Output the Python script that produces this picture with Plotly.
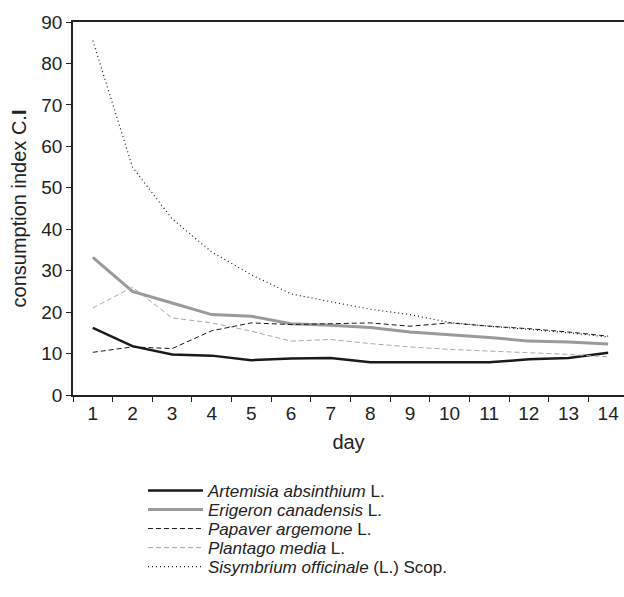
import plotly.graph_objects as go

days = list(range(1, 15))
artemisia = [16.2, 11.8, 9.8, 9.5, 8.4, 8.8, 8.9, 7.9, 7.9, 7.9, 7.9, 8.6, 8.9, 10.2]
erigeron = [33.2, 25.0, 22.2, 19.4, 19.0, 17.2, 16.8, 16.3, 15.2, 14.6, 13.9, 13.0, 12.8, 12.3]
papaver = [10.3, 11.6, 11.2, 15.5, 17.4, 17.0, 17.2, 17.4, 16.6, 17.4, 16.6, 16.0, 15.2, 14.2]
plantago = [21.0, 26.0, 18.6, 17.4, 15.4, 13.0, 13.4, 12.4, 11.6, 11.0, 10.6, 10.2, 9.8, 9.2]
sisymbrium = [85.5, 55.0, 42.5, 34.5, 29.0, 24.4, 22.5, 20.7, 19.4, 17.5, 16.6, 15.8, 15.0, 14.0]

names = ["<i>Artemisia absinthium</i> L.",
         "<i>Erigeron canadensis</i> L.",
         "<i>Papaver argemone</i> L.",
         "<i>Plantago media</i> L.",
         "<i>Sisymbrium officinale</i> (L.) Scop."]

series = [artemisia, erigeron, papaver, plantago, sisymbrium]
styles = [dict(color="#1a1a1a", width=2.5, dash="solid"),
          dict(color="#9a9a9a", width=3, dash="solid"),
          dict(color="#1a1a1a", width=1, dash="5px,3px"),
          dict(color="#a8a8a8", width=1, dash="5px,3px"),
          dict(color="#1a1a1a", width=1.2, dash="1px,3px")]

font = "Arial, Liberation Sans, sans-serif"
plot_top, plot_bottom = 22, 395
row_px = [491, 510, 529, 548, 567]

fig = go.Figure()
legend_layout = {}
for i, (nm, ys, st) in enumerate(zip(names, series, styles)):
    key = "legend" if i == 0 else f"legend{i + 1}"
    fig.add_trace(go.Scatter(x=days, y=ys, mode="lines", name=nm, line=st,
                             legend=key))
    legend_layout[key] = dict(
        x=0.127, y=(plot_bottom - row_px[i]) / (plot_bottom - plot_top),
        xanchor="left", yanchor="middle", itemwidth=55,
        font=dict(family=font, size=17, color="#222"),
        bgcolor="rgba(0,0,0,0)", borderwidth=0)

fig.update_layout(
    width=624, height=597,
    margin=dict(l=73, r=0, t=22, b=202, autoexpand=False),
    paper_bgcolor="white", plot_bgcolor="white",
    font=dict(family=font, size=19, color="#222"),
    showlegend=True,
    xaxis=dict(range=[0.5, 14.4], tickvals=days, ticks="", showgrid=False,
               showline=True, linecolor="#222", linewidth=1.5, mirror=True,
               zeroline=False, automargin=False,
               minor=dict(tick0=0.5, dtick=1, ticks="outside", ticklen=5,
                          tickcolor="#222", showgrid=False),
               title=dict(text="day", font=dict(size=20), standoff=12),
               tickfont=dict(size=19)),
    yaxis=dict(range=[0, 90], tickvals=list(range(0, 91, 10)), ticks="outside",
               ticklen=5, tickcolor="#222", showgrid=False, showline=True,
               linecolor="#222", linewidth=1.5, zeroline=False, automargin=False,
               title=dict(text="consumption index C.<b>I</b>", font=dict(size=20), standoff=9),
               tickfont=dict(size=19)),
    **legend_layout,
)

fig.write_html("out.html", config={"displayModeBar": False},
               post_script="document.body.style.margin='0';document.body.style.overflow='hidden';")
